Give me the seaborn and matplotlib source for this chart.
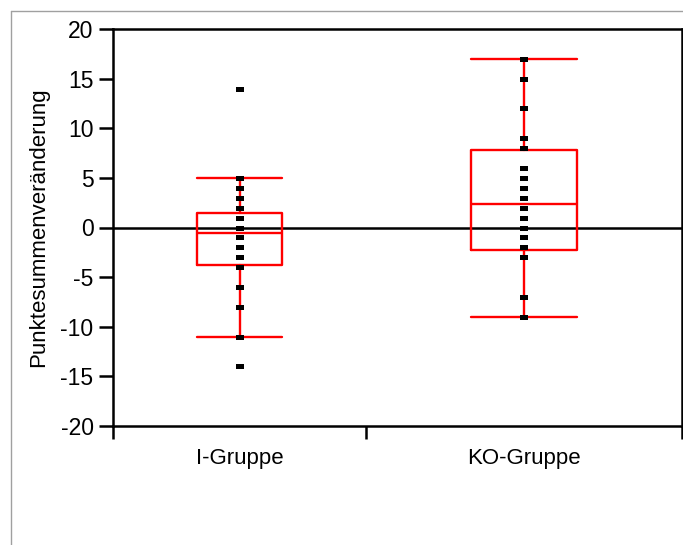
import pandas as pd
import seaborn as sns
import matplotlib.pyplot as plt
from matplotlib.lines import Line2D

# data
groups = ['I-Gruppe', 'KO-Gruppe']
i_values = [14, 5, 4, 3, 2, 1, 0, -1, -2, -3, -4, -6, -8, -11, -14]
ko_values = [17, 15, 12, 9, 8, 6, 5, 4, 3, 2, 1, 0, -1, -2, -3, -7, -9]

# box statistics (whiskers end at caps, not at extremes)
whis_low = [-11, -9]
q1 = [-3.75, -2.25]
med = [-0.6, 2.4]
q3 = [1.5, 7.8]
whis_high = [5, 17]
box_widths = [0.30, 0.37]

df = pd.DataFrame({
    'Gruppe': [groups[0]] * len(i_values) + [groups[1]] * len(ko_values),
    'Punkte': i_values + ko_values,
})

sns.set_style('white')
plt.rcParams['font.family'] = ['Liberation Sans', 'DejaVu Sans']
plt.rcParams['axes.unicode_minus'] = False
plt.rcParams['text.color'] = 'black'
plt.rcParams['axes.labelcolor'] = 'black'
plt.rcParams['xtick.color'] = 'black'
plt.rcParams['ytick.color'] = 'black'

fig = plt.figure(figsize=(6.83, 5.45), dpi=100)
ax = fig.add_axes([113 / 683, 1 - 426 / 545, 569 / 683, 397 / 545])

# outer grey frame (top and left edges visible)
fig.add_artist(Line2D([11 / 683, 1], [1 - 11 / 545, 1 - 11 / 545],
                      transform=fig.transFigure, color='#a0a0a0', lw=1))
fig.add_artist(Line2D([11 / 683, 11 / 683], [0, 1 - 11 / 545],
                      transform=fig.transFigure, color='#a0a0a0', lw=1))

# zero reference line
ax.axhline(0, color='black', lw=1.8, zorder=1)

# boxes
stats = []
for k in range(len(groups)):
    stats.append({'whislo': whis_low[k], 'q1': q1[k], 'med': med[k],
                  'q3': q3[k], 'whishi': whis_high[k], 'fliers': []})
red = dict(color='red', lw=1.7)
ax.bxp(stats, positions=[0, 1], widths=box_widths, capwidths=box_widths,
       boxprops=red, whiskerprops=red, capprops=red, medianprops=red,
       showfliers=False, manage_ticks=False, zorder=2)

# individual points
rect = [(-1, -0.6), (1, -0.6), (1, 0.6), (-1, 0.6), (-1, -0.6)]
sns.stripplot(data=df, x='Gruppe', y='Punkte', order=groups, jitter=False,
              color='black', marker=rect, size=6, linewidth=0, ax=ax, zorder=3)

ax.set_xlim(-0.445, 1.555)
ax.set_ylim(-20, 20)
ax.set_yticks(range(-20, 21, 5))
ax.set_xticks([0, 1])
ax.set_xticklabels(groups)
ax.set_xticks([-0.445, 0.445, 1.555], minor=True)
ax.tick_params(axis='x', which='major', length=0, labelsize=16, pad=16)
ax.tick_params(axis='x', which='minor', length=9, width=1.8,
               direction='out', bottom=True)
ax.tick_params(axis='y', length=10, width=1.8, direction='out',
               labelsize=16.5, left=True, pad=4)
ax.set_xlabel('')
ax.set_ylabel('Punktesummenveränderung', fontsize=16, labelpad=8)

for side in ['left', 'bottom', 'top', 'right']:
    ax.spines[side].set_color('black')
    ax.spines[side].set_linewidth(1.8)
    ax.spines[side].set_visible(True)

fig.savefig('out.png', dpi=100)
